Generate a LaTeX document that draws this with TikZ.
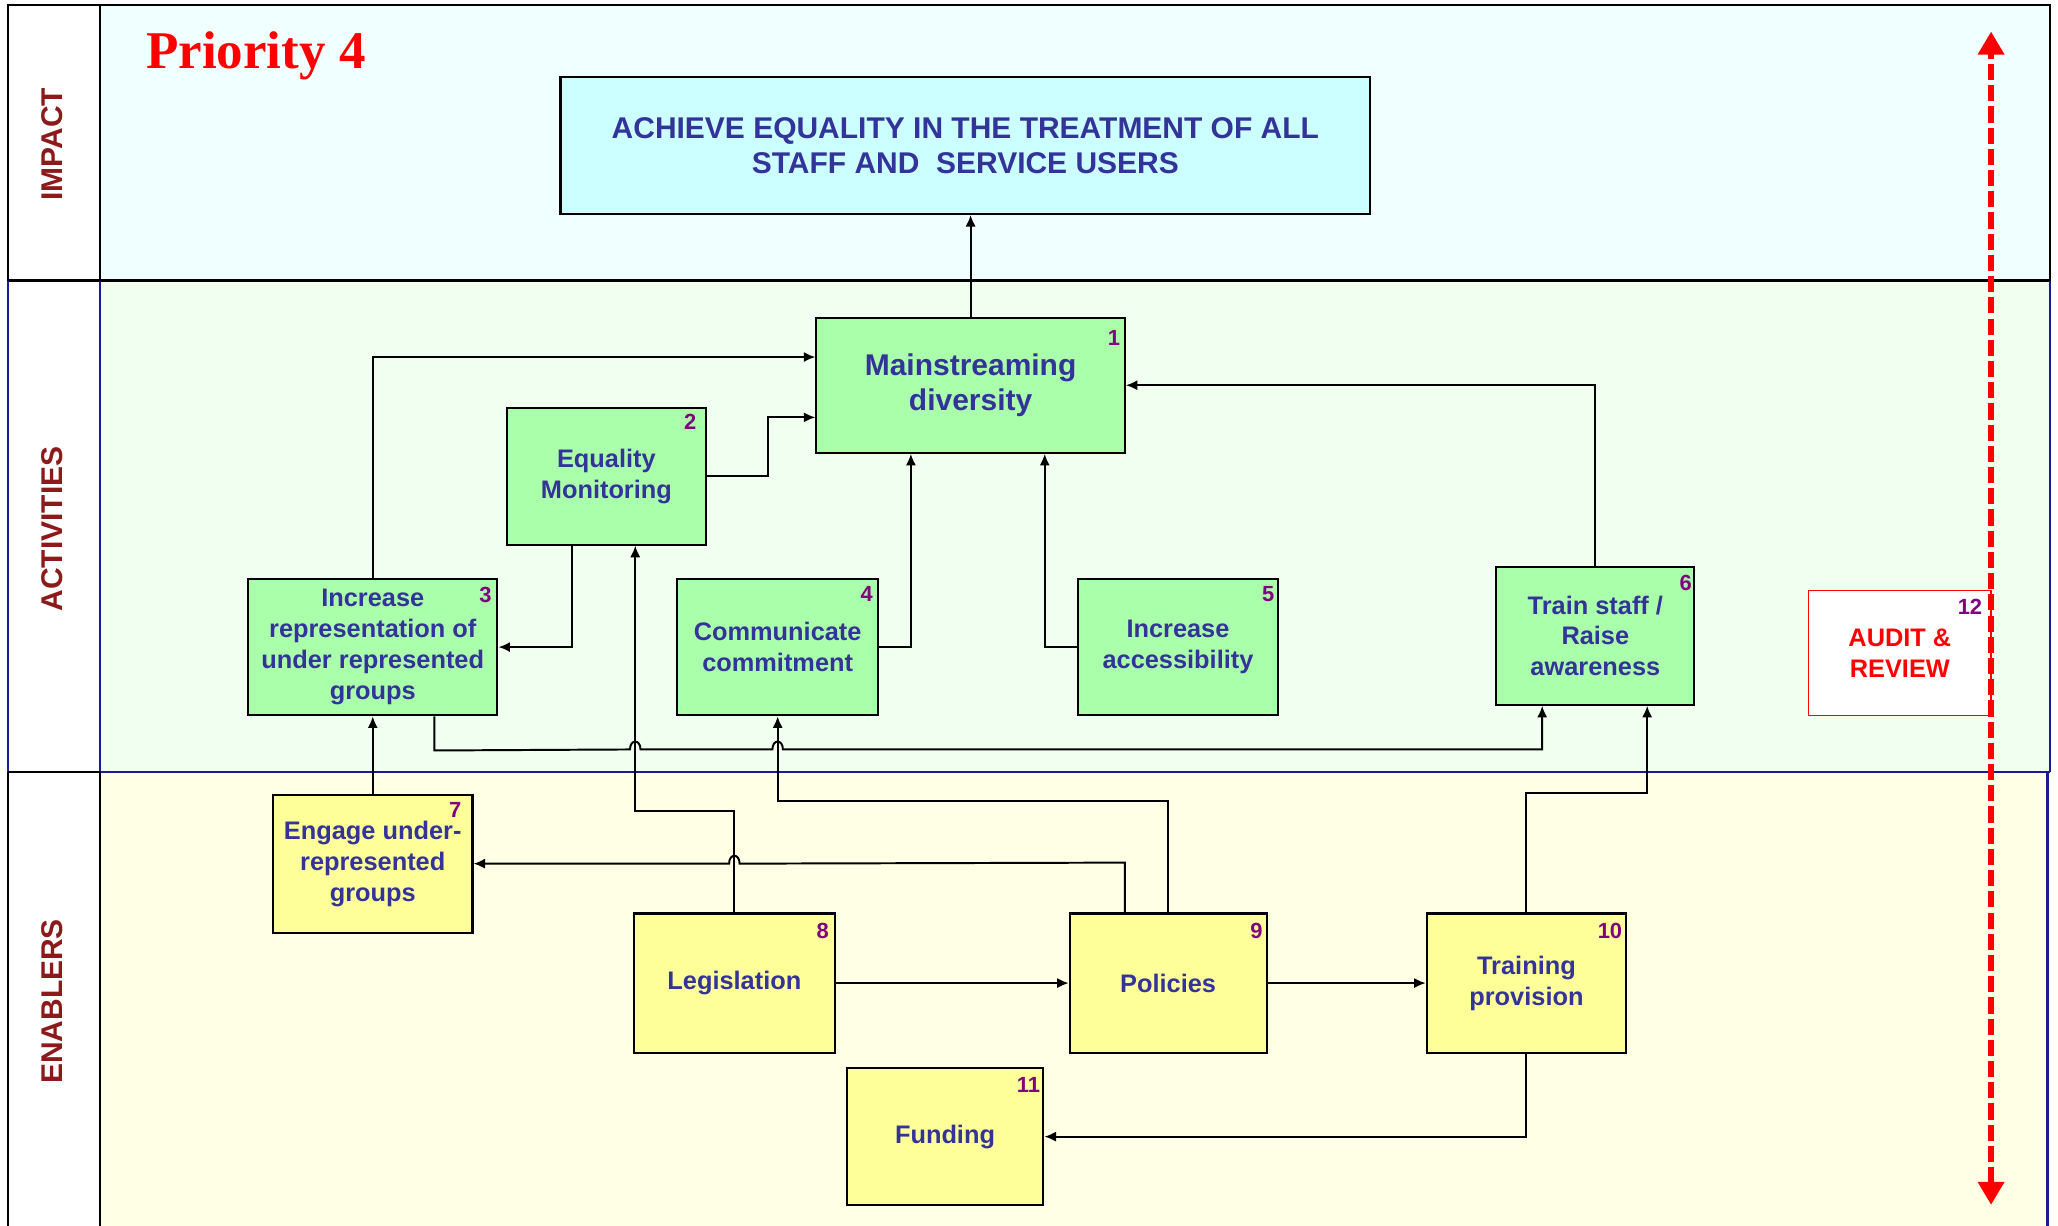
\documentclass[tikz,border=0pt]{standalone}
\usepackage{fontspec}
\setmainfont{Liberation Sans}
\newfontfamily\serifprio{Liberation Serif}
\usetikzlibrary{arrows.meta}
\definecolor{txtblue}{HTML}{333399}
\definecolor{numpurple}{HTML}{800080}
\definecolor{labelred}{HTML}{8C1A1A}
\definecolor{greenfill}{HTML}{AAFFAA}
\definecolor{yellowfill}{HTML}{FFFF99}
\definecolor{goalfill}{HTML}{CCFFFF}
\definecolor{impactbg}{HTML}{F0FFFF}
\definecolor{actbg}{HTML}{F0FFF0}
\definecolor{enabg}{HTML}{FFFFE6}
\definecolor{bandblue}{HTML}{1A1A99}
\definecolor{auditred}{HTML}{FF0000}
\begin{document}
\begin{tikzpicture}[x=0.02cm,y=-0.02cm,
  box/.style={draw, line width=0.9pt, text=txtblue, align=center, inner sep=0pt,
    font=\bfseries\fontsize{11}{13.4}\selectfont},
  gbox/.style={box, fill=greenfill, minimum height=2.08cm},
  ybox/.style={box, fill=yellowfill, minimum height=2.1cm},
  num/.style={text=numpurple, font=\bfseries\fontsize{9.5}{10}\selectfont, inner sep=0pt, anchor=north east},
  sidelabel/.style={text=labelred, font=\bfseries\fontsize{13}{15}\selectfont, rotate=90, inner sep=0pt},
  conn/.style={draw=black, line width=0.85pt, -{Latex[length=5pt,width=4.4pt]}},
  frameblack/.style={draw=black, line width=1pt},
  frameblue/.style={draw=bandblue, line width=1pt}
]
\useasboundingbox (0,0) rectangle (1568,934);
% bands
\fill[white] (0,0) rectangle (1568,934);
\fill[impactbg] (76,4) rectangle (1562,214);
\fill[actbg] (76,214) rectangle (1562,588);
\fill[enabg] (76,588) rectangle (1560,934);
% frame lines
\draw[frameblack] (6,214) -- (6,4) -- (1562,4) -- (1562,214);
\draw[frameblack] (76,4) -- (76,214);
\draw[frameblack, line width=1.3pt] (6,214) -- (1562,214);
\draw[frameblue] (6,214) -- (6,588);
\draw[frameblue] (76,214) -- (76,588);
\draw[frameblue] (1562,214) -- (1562,588);
\draw[frameblue] (76,588) -- (1562,588);
\draw[frameblack] (6,588) -- (76,588);
\draw[frameblack] (6,588) -- (6,934);
\draw[frameblack] (76,588) -- (76,934);
\draw[frameblue] (1560,588) -- (1560,934);

% side labels
\node[sidelabel] (limpact) at (40,110) {IMPACT};
\node[sidelabel] (lact) at (40,403) {ACTIVITIES};
\node[sidelabel] (lena) at (40,763) {ENABLERS};

% title
\node[anchor=base west, inner sep=0pt, text=red, font=\serifprio\bfseries\fontsize{23}{25}\selectfont] (prio) at (111,52) {Priority 4};

% goal
\node[box, fill=goalfill, minimum width=12.34cm, minimum height=2.08cm,
  font=\bfseries\fontsize{13}{15.3}\selectfont] (goal) at (735.5,111)
  {ACHIEVE EQUALITY IN THE TREATMENT OF ALL\\STAFF AND\ \ SERVICE USERS};

% activities
\node[gbox, minimum width=4.70cm, minimum height=2.06cm,
  font=\bfseries\fontsize{13}{15.3}\selectfont] (b1) at (739.5,293.5) {Mainstreaming\\diversity};
\node[gbox, minimum width=3.04cm] (b2) at (462,363) {Equality\\Monitoring};
\node[gbox, minimum width=3.80cm] (b3) at (284,493) {Increase\\representation of\\under represented\\groups};
\node[gbox, minimum width=3.06cm] (b4) at (592.5,493) {Communicate\\commitment};
\node[gbox, minimum width=3.06cm] (b5) at (897.5,493) {Increase\\accessibility};
\node[gbox, minimum width=3.02cm, minimum height=2.10cm] (b6) at (1215.5,484.5) {Train staff /\\Raise\\awareness};
\node[box, draw=auditred, line width=0.6pt, fill=white, text=auditred, minimum width=2.78cm, minimum height=1.90cm] (b12) at (1447.5,497.5) {AUDIT \&\\REVIEW};

% enablers
\node[ybox, minimum width=3.04cm] (b7) at (284,658) {Engage under-\\represented\\groups};
\node[ybox, minimum width=3.06cm, minimum height=2.12cm] (b8) at (559.5,749) {Legislation};
\node[ybox, minimum width=3.00cm, minimum height=2.12cm] (b9) at (890,749) {Policies};
\node[ybox, minimum width=3.04cm, minimum height=2.12cm] (b10) at (1163,749) {Training\\provision};
\node[ybox, minimum width=3.00cm, minimum height=2.08cm] (b11) at (720,866) {Funding};

% numbers
\node[num] (n1) at ([xshift=-0.08cm,yshift=-0.2cm]b1.north east) {1};
\node[num] (n2) at ([xshift=-0.16cm,yshift=-0.1cm]b2.north east) {2};
\node[num] (n3) at ([xshift=-0.1cm,yshift=-0.13cm]b3.north east) {3};
\node[num] (n4) at ([xshift=-0.09cm,yshift=-0.13cm]b4.north east) {4};
\node[num] (n5) at ([xshift=-0.07cm,yshift=-0.13cm]b5.north east) {5};
\node[num] (n6) at ([xshift=-0.05cm,yshift=-0.13cm]b6.north east) {6};
\node[num] (n12) at ([xshift=-0.14cm,yshift=-0.13cm]b12.north east) {12};
\node[num] (n7) at ([xshift=-0.18cm,yshift=-0.13cm]b7.north east) {7};
\node[num] (n8) at ([xshift=-0.1cm,yshift=-0.16cm]b8.north east) {8};
\node[num] (n9) at ([xshift=-0.07cm,yshift=-0.16cm]b9.north east) {9};
\node[num] (n10) at ([xshift=-0.07cm,yshift=-0.16cm]b10.north east) {10};
\node[num] (n11) at ([xshift=-0.06cm,yshift=-0.15cm]b11.north east) {11};

% connectors
\coordinate (v9) at (484,0);
\draw[conn] (b1.north) -- (b1.north |- goal.south);
\draw[conn] (b3.north) |- ([yshift=0.43cm]b1.west);
\draw[conn] (b2.east) -- ++(46,0) |- ([yshift=-0.49cm]b1.west);
\draw[conn] ([xshift=-0.52cm]b2.south) |- (b3.east);
\draw[conn] (b4.east) -| ([xshift=-0.91cm]b1.south);
\draw[conn] (b5.west) -| ([xshift=1.13cm]b1.south);
\draw[conn] (b6.north) |- (b1.east);
\draw[conn] ([xshift=0.94cm]b3.south) -- ++(0,26) -- (480,571)
  .. controls (480,563) and (488,563) .. (488,571) -- (588.5,571)
  .. controls (588.5,563) and (596.5,563) .. (596.5,571)
  -| ([xshift=-0.81cm]b6.south);
\draw[conn] (b8.north) -- ++(0,-77) -| (b2.south -| v9);
\draw[conn] (b9.north) -- ++(0,-85) -| (b4.south);
\draw[conn] ([xshift=-0.66cm]b9.north) -- ++(0,-38) -- (563.5,658)
  .. controls (563.5,650) and (555.5,650) .. (555.5,658) -- (b7.east);
\draw[conn] (b7.north) -- (b3.south);
\draw[conn] (b8.east) -- (b9.west);
\draw[conn] (b9.east) -- (b10.west);
\draw[conn] (b10.north) -- ++(0,-91) -| ([xshift=0.79cm]b6.south);
\draw[conn] (b10.south) |- (b11.east);

% audit & review span
\coordinate (rtop) at (1517,24);
\coordinate (rbot) at (1517,918);
\draw[draw=red, line width=2.6pt, dash pattern=on 7pt off 2.2pt,
  {Triangle[length=10pt,width=11pt]}-{Triangle[length=10pt,width=11pt]}] (rbot) -- (rtop);
\end{tikzpicture}
\end{document}
